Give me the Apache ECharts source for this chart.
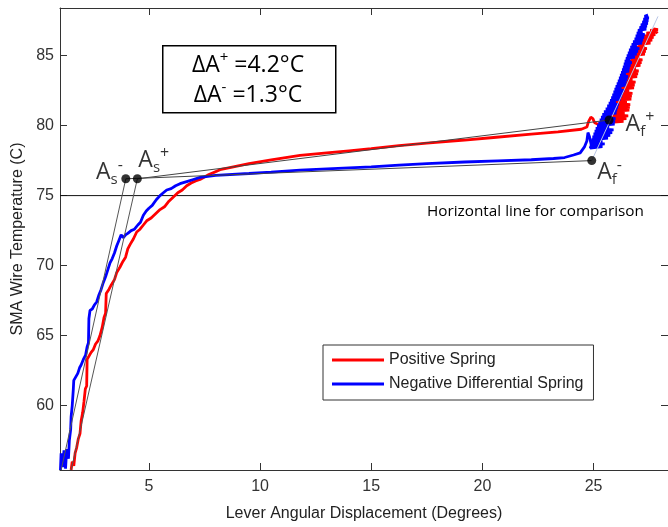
<!DOCTYPE html>
<html>
<head>
<meta charset="utf-8">
<script src="https://cdn.jsdelivr.net/npm/echarts@6/dist/echarts.min.js"></script>
<style>
  html, body { margin: 0; padding: 0; background: #fff; }
  #chart { width: 668px; height: 527px; }
</style>
</head>
<body>
<div id="chart"></div>
<script>
// Axis ticks
const xTicks = [5, 10, 15, 20, 25];
const yTicks = [60, 65, 70, 75, 80, 85];
const xRange = [1, 28.35];
const yRange = [55.4, 88.4];

// Lever angular displacement (deg) vs SMA wire temperature (C)
const positiveSpring = [
  [1.50,55.4],[1.55,56.0],[1.62,55.7],[1.68,56.6],[1.75,57.0],[1.82,57.6],[1.90,58.0],[1.95,58.9],
  [2.02,59.5],[2.08,60.3],[2.14,61.2],[2.20,61.4],[2.22,63.3],[2.30,63.4],[2.40,63.8],[2.50,64.0],
  [2.60,64.4],[2.70,64.6],[2.80,65.0],[2.90,65.6],[2.98,66.3],[3.05,66.6],[3.08,68.0],[3.20,68.3],
  [3.30,68.6],[3.45,69.0],[3.55,69.5],[3.70,69.9],[3.83,70.3],[3.95,70.6],[4.05,71.2],[4.15,71.5],
  [4.30,71.9],[4.45,72.4],[4.60,72.6],[4.75,72.9],[4.90,73.2],[5.10,73.4],[5.30,73.7],[5.50,74.0],
  [5.70,74.2],[5.90,74.6],[6.10,74.9],[6.30,75.2],[6.50,75.4],[6.70,75.7],[6.90,75.9],[7.10,76.05],
  [7.30,76.15],[7.70,76.5],[8.20,76.85],[8.80,77.05],[9.50,77.28],[10.5,77.55],[11.8,77.87],[13.0,78.05],
  [14.0,78.2],[15.0,78.35],[16.25,78.57],[17.5,78.75],[19.2,78.97],[20.5,79.15],[22.2,79.39],[23.4,79.55],
  [24.45,79.74],[24.7,79.9],[24.78,80.3],[24.88,80.6],[24.97,80.5],[25.05,80.2],[25.2,80.1],[25.4,80.1],
  [25.50,80.2],[26.35,80.3],[25.55,80.4],[26.48,80.5],[25.62,80.6],[26.56,80.7],[25.70,80.8],[26.40,80.9],
  [25.75,81.0],[26.61,81.1],[25.82,81.2],[26.63,81.3],[25.88,81.4],[26.65,81.5],[25.92,81.6],[26.50,81.7],
  [25.97,81.8],[26.70,81.9],[26.02,82.0],[26.72,82.1],[26.06,82.2],[26.75,82.3],[26.10,82.4],[26.60,82.5],
  [26.14,82.6],[26.82,82.7],[26.18,82.8],[26.85,82.9],[26.22,83.0],[26.89,83.1],[26.27,83.2],[26.75,83.3],
  [26.32,83.4],[26.96,83.5],[26.37,83.6],[27.00,83.7],[26.42,83.8],[27.03,83.9],[26.46,84.0],[26.90,84.1],
  [26.50,84.2],[27.11,84.3],[26.56,84.4],[27.16,84.5],[26.62,84.6],[27.20,84.7],[26.68,84.8],[27.05,84.9],
  [26.75,85.0],[27.31,85.1],[26.82,85.2],[27.35,85.3],[26.88,85.4],[27.40,85.5],[26.95,85.6],[27.30,85.7],
  [27.02,85.8],[27.56,85.9],[27.10,86.0],[27.64,86.1],[27.20,86.2],[27.70,86.3],[27.28,86.4],[27.78,86.5],
  [27.38,86.6],[27.85,86.7],[27.55,86.8],[27.90,86.85],[27.70,86.9],[27.88,86.6]
];
const negativeSpring = [
  [1.02,55.4],[1.05,56.6],[1.12,55.6],[1.18,56.8],[1.25,55.5],[1.30,56.9],[1.38,56.2],[1.42,57.5],
  [1.48,58.3],[1.50,59.2],[1.55,60.0],[1.60,61.2],[1.62,61.8],[1.70,61.9],[1.80,62.3],[1.88,62.7],
  [1.95,62.9],[2.05,63.3],[2.15,63.6],[2.22,64.2],[2.28,64.5],[2.30,66.2],[2.35,66.8],[2.45,66.9],
  [2.55,67.2],[2.65,67.4],[2.75,67.9],[2.85,68.3],[2.95,68.8],[3.05,69.2],[3.15,69.7],[3.25,70.2],
  [3.35,70.5],[3.45,70.9],[3.55,71.4],[3.65,71.8],[3.75,72.2],[3.85,72.0],[3.95,72.2],[4.05,72.3],
  [4.20,72.5],[4.35,72.6],[4.50,72.9],[4.62,73.1],[4.75,73.6],[4.88,73.9],[5.00,74.1],[5.15,74.3],
  [5.33,74.7],[5.50,75.0],[5.65,75.2],[5.80,75.4],[6.00,75.5],[6.20,75.7],[6.40,75.85],[6.70,76.0],
  [7.00,76.15],[7.30,76.3],[8.00,76.45],[9.50,76.58],[10.5,76.68],[11.8,76.82],[13.5,76.95],[15.0,77.05],
  [16.25,77.17],[17.5,77.28],[19.2,77.4],[20.7,77.48],[22.2,77.56],[23.2,77.65],[23.7,77.72],[24.1,77.9],
  [24.4,78.05],[24.6,78.5],[24.7,78.9],[24.75,79.5],[24.82,79.2],[24.9,78.6],[24.85,78.4],
  [25.40,78.5],[24.87,78.6],[25.50,78.7],[24.89,78.8],[25.40,78.9],[24.92,79.0],[25.65,79.1],[24.95,79.2],
  [25.75,79.3],[25.00,79.4],[25.84,79.5],[25.05,79.6],[25.90,79.7],[25.10,79.8],[25.70,79.9],[25.16,80.0],
  [25.95,80.1],[25.22,80.2],[25.97,80.3],[25.28,80.4],[25.99,80.5],[25.34,80.6],[25.80,80.7],[25.40,80.8],
  [26.03,80.9],[25.47,81.0],[26.06,81.1],[25.55,81.2],[26.10,81.3],[25.62,81.4],[26.13,81.5],[25.69,81.6],
  [26.00,81.7],[25.75,81.8],[26.22,81.9],[25.80,82.0],[26.28,82.1],[25.85,82.2],[26.32,82.3],[25.90,82.4],
  [26.38,82.5],[25.95,82.6],[26.25,82.7],[26.00,82.8],[26.45,82.9],[26.05,83.0],[26.48,83.1],[26.10,83.2],
  [26.52,83.3],[26.15,83.4],[26.55,83.5],[26.20,83.6],[26.45,83.7],[26.25,83.8],[26.60,83.9],[26.29,84.0],
  [26.62,84.1],[26.33,84.2],[26.66,84.3],[26.37,84.4],[26.72,84.5],[26.41,84.6],[26.65,84.7],[26.46,84.8],
  [26.86,84.9],[26.50,85.0],[26.94,85.1],[26.55,85.2],[27.00,85.3],[26.60,85.4],[27.06,85.5],[26.66,85.6],
  [26.95,85.7],[26.72,85.8],[27.18,85.9],[26.78,86.0],[27.22,86.1],[26.85,86.2],[27.27,86.3],[26.90,86.4],
  [27.30,86.5],[26.95,86.6],[27.20,86.7],[27.00,86.8],[27.37,86.9],[27.07,87.0],[27.40,87.1],[27.13,87.2],
  [27.44,87.3],[27.20,87.4],[27.46,87.5],[27.25,87.6],[27.48,87.7],[27.30,87.8],[27.45,87.9],[27.36,87.85]
];

// Transformation start / finish points
const asMinus = [3.96, 76.2];
const asPlus = [4.48, 76.2];
const afMinus = [24.92, 77.5];
const afPlus = [25.7, 80.4];

// Tangent construction lines
const startLineMinus = [[1.05, 55.4], asMinus];
const startLinePlus = [[1.5, 55.4], asPlus];
const plateauMinus = [asMinus, afMinus];
const plateauPlus = [asPlus, afPlus];
const finishLine = [afMinus, [27.9, 87.8]];
const comparisonLevel = 75;

const chart = echarts.init(document.getElementById('chart'), null, { renderer: 'canvas' });

const axisColor = '#333';
const labelFont = 'Liberation Sans, Arial, sans-serif';
const noteFont = 'Open Sans, sans-serif';

function pointLabel(sup, sub, pos, align) {
  return {
    show: true,
    position: pos,
    align: align,
    verticalAlign: 'middle',
    formatter: '{a|A}{s|' + sub + '}{p|' + sup + '}',
    rich: {
      a: { fontFamily: noteFont, fontSize: 23, color: '#000', lineHeight: 30, verticalAlign: 'middle' },
      s: { fontFamily: noteFont, fontSize: 15, color: '#000', lineHeight: 15, verticalAlign: 'bottom' },
      p: { fontFamily: noteFont, fontSize: 16, color: '#000', lineHeight: 16, verticalAlign: 'top' }
    }
  };
}

function guide(data, color) {
  return {
    type: 'line', data: data, showSymbol: false, symbol: 'none', silent: true,
    lineStyle: { color: color, width: 1 }, z: 4, animation: false
  };
}

function deltaText(y, sign, value) {
  return {
    type: 'text', x: 248, y: y, z: 11,
    style: {
      text: '{t|ΔA}{p|' + sign + '}{t| =' + value + '°C}', align: 'center', verticalAlign: 'middle',
      rich: {
        t: { fontFamily: noteFont, fontSize: 23, fill: '#000', lineHeight: 30, verticalAlign: 'middle' },
        p: { fontFamily: noteFont, fontSize: 15, fill: '#000', lineHeight: 15, verticalAlign: 'top' }
      }
    }
  };
}

const option = {
  animation: false,
  backgroundColor: '#fff',
  grid: { left: 60, top: 8, width: 610, height: 471, containLabel: false },
  legend: {
    data: [
      { name: 'Positive Spring', icon: 'rect' },
      { name: 'Negative Differential Spring', icon: 'rect' }
    ],
    orient: 'vertical',
    left: 323, top: 345,
    padding: [7, 10, 8, 9],
    itemGap: 8,
    itemWidth: 52, itemHeight: 3,
    borderColor: '#333', borderWidth: 1, borderRadius: 0,
    backgroundColor: '#fff',
    textStyle: { fontFamily: labelFont, fontSize: 16, color: '#222' },
    selectedMode: false
  },
  xAxis: [
    {
      type: 'value', min: xRange[0], max: xRange[1], position: 'bottom',
      name: 'Lever Angular Displacement (Degrees)', nameLocation: 'middle', nameGap: 36,
      nameTextStyle: { fontFamily: labelFont, fontSize: 16, color: '#222' },
      axisLine: { show: true, lineStyle: { color: axisColor, width: 1 } },
      axisTick: { show: true, inside: true, length: 7, customValues: xTicks, lineStyle: { color: axisColor } },
      axisLabel: { customValues: xTicks, fontFamily: labelFont, fontSize: 16, color: '#333', margin: 9 },
      splitLine: { show: false }
    },
    {
      type: 'value', min: xRange[0], max: xRange[1], position: 'top',
      axisLine: { show: true, lineStyle: { color: axisColor, width: 1 } },
      axisTick: { show: true, inside: true, length: 7, customValues: xTicks, lineStyle: { color: axisColor } },
      axisLabel: { show: false },
      splitLine: { show: false }
    }
  ],
  yAxis: [
    {
      type: 'value', min: yRange[0], max: yRange[1], position: 'left',
      name: 'SMA Wire Temperature (C)', nameLocation: 'middle', nameGap: 33,
      nameTextStyle: { fontFamily: labelFont, fontSize: 16, color: '#222' },
      axisLine: { show: true, lineStyle: { color: axisColor, width: 1 } },
      axisTick: { show: true, inside: true, length: 7, customValues: yTicks, lineStyle: { color: axisColor } },
      axisLabel: { customValues: yTicks, fontFamily: labelFont, fontSize: 16, color: '#333', margin: 6 },
      splitLine: { show: false }
    },
    {
      type: 'value', min: yRange[0], max: yRange[1], position: 'right',
      axisLine: { show: true, lineStyle: { color: axisColor, width: 1 } },
      axisTick: { show: true, inside: true, length: 7, customValues: yTicks, lineStyle: { color: axisColor } },
      axisLabel: { show: false },
      splitLine: { show: false }
    }
  ],
  series: [
    {
      name: 'Horizontal line for comparison',
      type: 'line', silent: true, showSymbol: false, symbol: 'none',
      data: [[xRange[0], comparisonLevel], [xRange[1], comparisonLevel]],
      lineStyle: { color: '#111', width: 1 }, z: 1
    },
    {
      name: 'Positive Spring', type: 'line', data: positiveSpring,
      showSymbol: false, symbol: 'none', color: '#ff0000',
      lineStyle: { color: '#ff0000', width: 2.8 }, z: 2
    },
    {
      name: 'Negative Differential Spring', type: 'line', data: negativeSpring,
      showSymbol: false, symbol: 'none', color: '#0000ff',
      lineStyle: { color: '#0000ff', width: 2.8 }, z: 3
    },
    guide(startLineMinus, '#555'),
    guide(startLinePlus, '#555'),
    guide(plateauMinus, '#444'),
    guide(plateauPlus, '#444'),
    guide(finishLine, '#b9c6e6'),
    {
      name: 'Transition points', type: 'scatter', symbol: 'circle', symbolSize: 9,
      itemStyle: { color: '#000' }, z: 6, silent: true,
      data: [
        { value: asMinus, label: pointLabel('-', 's', [1.5, -2], 'right') },
        { value: asPlus, label: pointLabel('+', 's', [5.5, -14], 'left') },
        { value: afMinus, label: pointLabel('-', 'f', [10, 16], 'left') },
        { value: afPlus, label: pointLabel('+', 'f', [21, 9], 'left') }
      ]
    }
  ],
  graphic: [
    {
      type: 'rect', left: 162, top: 45, z: 10,
      shape: { width: 173, height: 67 },
      style: { fill: '#fff', stroke: '#000', lineWidth: 1.5 }
    },
    deltaText(65, '+', '4.2'),
    deltaText(95, '-', '1.3'),
    {
      type: 'text', x: 427, y: 212, z: 11,
      style: {
        text: 'Horizontal line for comparison', fontFamily: noteFont, fontSize: 15.3,
        fill: '#000', align: 'left', verticalAlign: 'middle'
      }
    }
  ]
};

chart.setOption(option);
</script>
</body>
</html>
